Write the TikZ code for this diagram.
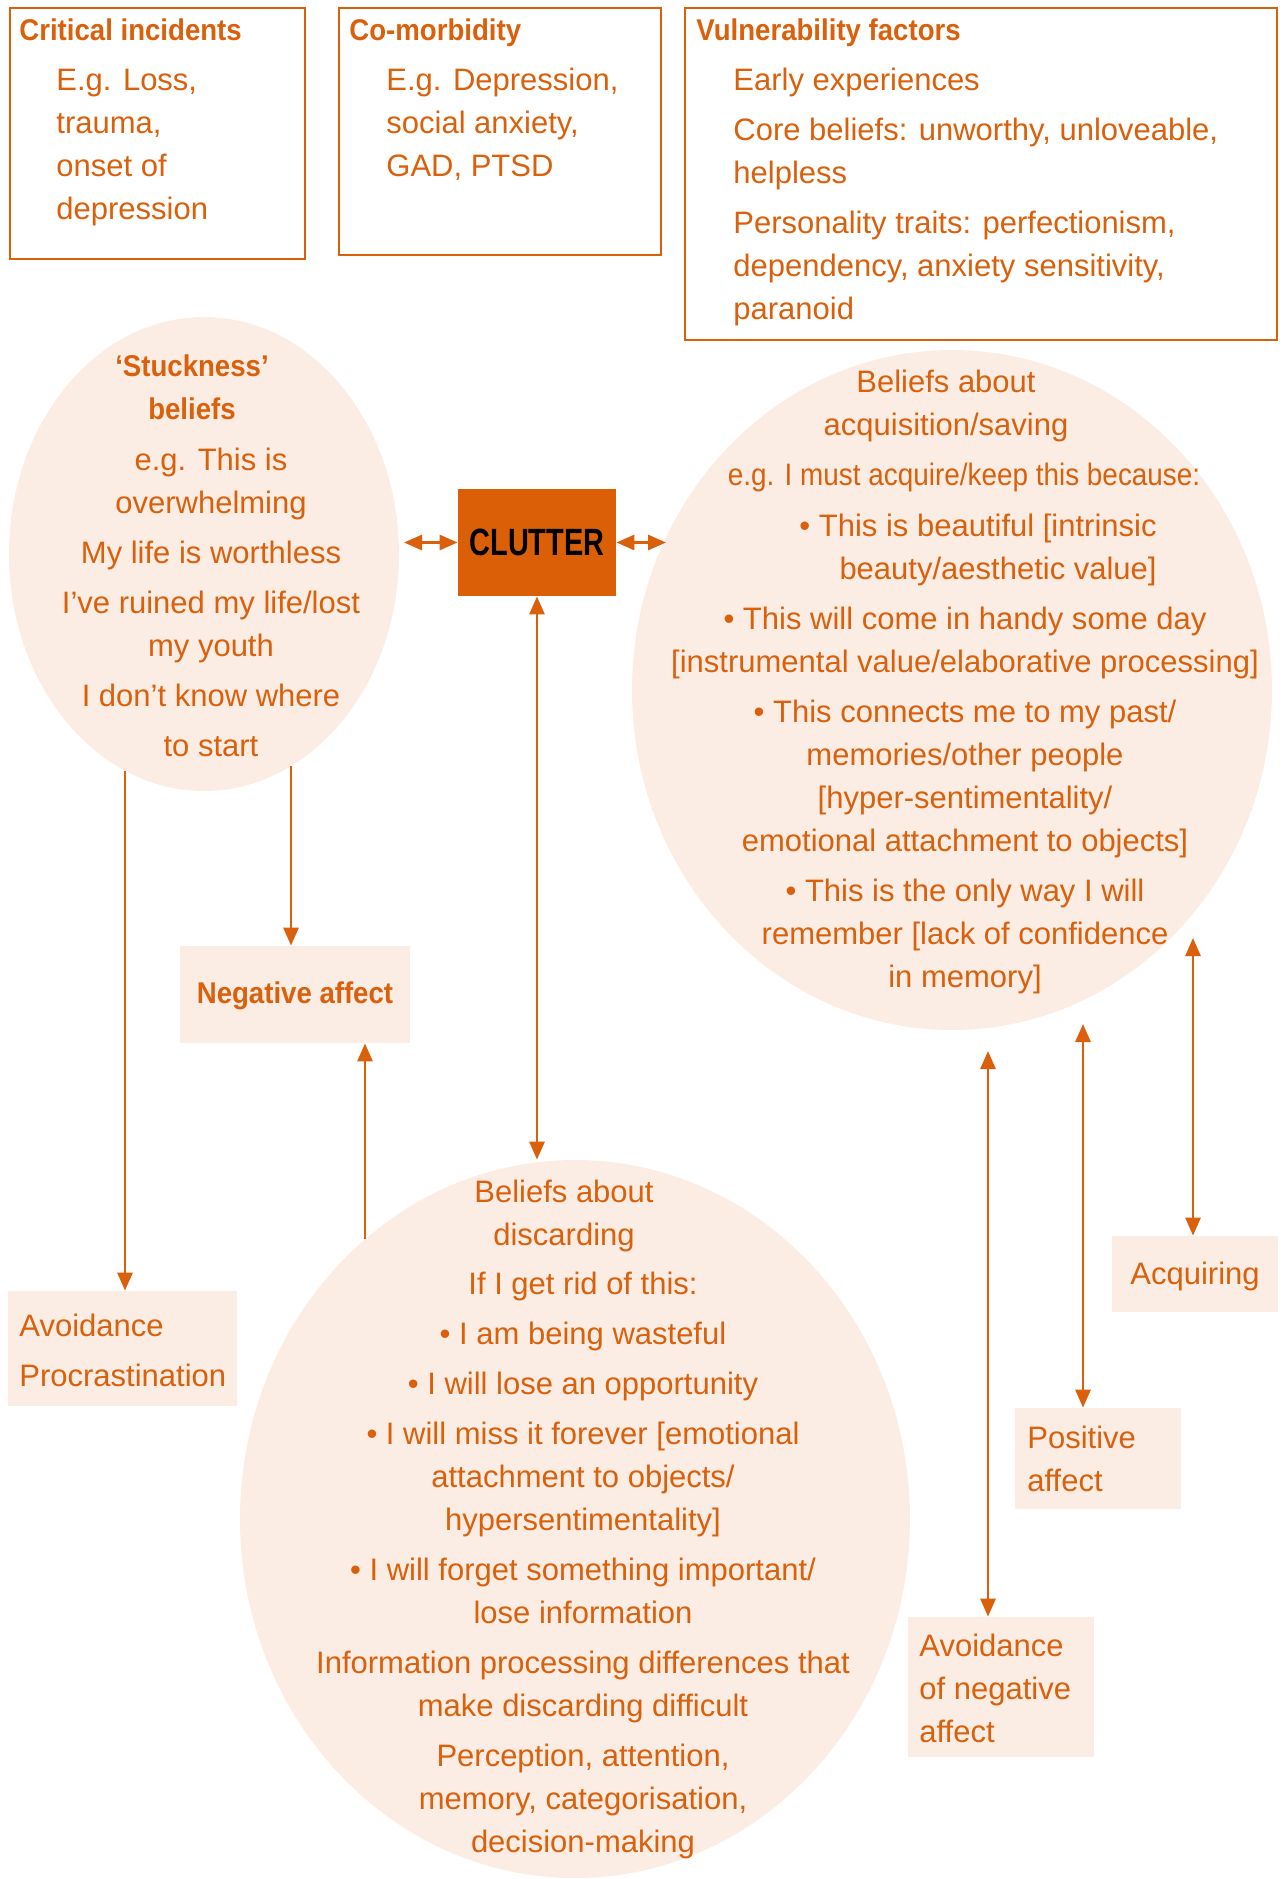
\documentclass[tikz,border=0pt]{standalone}
\usepackage{fontspec}
\usepackage{graphicx}
\usetikzlibrary{shapes.geometric,arrows.meta}
\setmainfont{Liberation Sans}
\newfontfamily\hdfont{Liberation Sans}[FakeStretch=0.92]
\newfontfamily\clfont{Liberation Sans}[FakeStretch=0.76]
\definecolor{org}{RGB}{218,96,12}
\definecolor{lt}{RGB}{251,237,228}
\definecolor{clbg}{RGB}{219,95,6}
\newcommand\firstl{\rule{0pt}{12pt}}
\tikzset{
 obox/.style={draw=org, line width=1.3pt, inner sep=0pt},
 fbox/.style={fill=lt, inner sep=0pt},
 bell/.style={ellipse, fill=lt, inner sep=0pt},
 tx/.style={inner sep=0pt, text=org, font=\fontsize{15.5}{21.5}\selectfont},
 hd/.style={inner sep=0pt, text=org, font=\hdfont\bfseries\fontsize{15}{21.5}\selectfont},
 arr/.style={draw=org, line width=1.45pt, -{Triangle[length=9pt,width=7.5pt]}},
 darr/.style={draw=org, line width=1.45pt, {Triangle[length=9pt,width=7.5pt]}-{Triangle[length=9pt,width=7.5pt]}},
}
\begin{document}
\begin{tikzpicture}[x=0.5pt,y=-0.5pt]
\useasboundingbox (0,0) rectangle (1283,1879);
% ellipses
\node[bell, minimum width=195pt, minimum height=237pt] (stuck) at (204,554) {};
\node[bell, minimum width=320pt, minimum height=340pt] (acqell) at (952,690) {};
\node[bell, minimum width=335pt, minimum height=359pt] (disc) at (575,1519) {};
% top boxes
\node[obox, minimum width=147.5pt, minimum height=125.5pt] (crit) at (157.5,133.5) {};
\node[obox, minimum width=161pt, minimum height=123.5pt] (comorb) at (500,131.5) {};
\node[obox, minimum width=296pt, minimum height=166pt] (vuln) at (981,174) {};
\node[hd, anchor=base west] (crittitle) at (19,40) {Critical incidents};
\node[hd, anchor=base west] (comorbtitle) at (349,40) {Co-morbidity};
\node[hd, anchor=base west] (vulntitle) at (696,40) {Vulnerability factors};
\node[tx, anchor=north west, align=left] (critbody) at (56,66) {\firstl E.g. Loss,\\trauma,\\onset of\\depression};
\node[tx, anchor=north west, align=left] (comorbbody) at (386,66) {\firstl E.g. Depression,\\social anxiety,\\GAD, PTSD};
\node[tx, anchor=north west, align=left] (vulnbody) at (733,66) {\firstl Early experiences\\[3.5pt]Core beliefs: unworthy, unloveable,\\helpless\\[3.5pt]Personality traits: perfectionism,\\dependency, anxiety sensitivity,\\paranoid};
% stuckness
\node[hd, anchor=north, align=center] (stucktitle) at (192,352) {\firstl ‘Stuckness’\\beliefs};
\node[tx, anchor=north, align=center] (stuckbody) at (211,446) {\firstl e.g. This is\\overwhelming\\[3.5pt]My life is worthless\\[3.5pt]I’ve ruined my life/lost\\my youth\\[3.5pt]I don’t know where\\[3.5pt]to start};
% clutter
\node[fill=clbg, inner sep=0pt, minimum width=79pt, minimum height=53.5pt, font=\clfont\bfseries\fontsize{19}{22}\selectfont] (clutter) at (537,542.5) {CLUTTER};
% acquisition ellipse text
\node[tx, anchor=north, align=center] (acqtitle) at (946,368) {\firstl Beliefs about\\acquisition/saving};
\node[tx, anchor=north] (acqeg) at (964,461) {\scalebox{0.9}[1]{\firstl e.g. I must acquire/keep this because:}};
\node[tx, anchor=north east, align=right] (acqb1) at (1157,512) {\firstl • This is beautiful {[}intrinsic\\beauty/aesthetic value]};
\node[tx, anchor=north, align=center] (acqrest) at (965,605) {\firstl • This will come in handy some day\\{[}instrumental value/elaborative processing]\\[3.5pt]• This connects me to my past/\\memories/other people\\{[}hyper-sentimentality/\\emotional attachment to objects]\\[3.5pt]• This is the only way I will\\remember {[}lack of confidence\\in memory]};
% discarding ellipse text
\node[tx, anchor=north, align=center] (disctitle) at (564,1178) {\firstl Beliefs about\\discarding};
\node[tx, anchor=north, align=center] (discbody) at (583,1270) {\firstl If I get rid of this:\\[3.5pt]• I am being wasteful\\[3.5pt]• I will lose an opportunity\\[3.5pt]• I will miss it forever {[}emotional\\attachment to objects/\\hypersentimentality]\\[3.5pt]• I will forget something important/\\lose information\\[3.5pt]Information processing differences that\\make discarding difficult\\[3.5pt]Perception, attention,\\memory, categorisation,\\decision-making};
% filled boxes
\node[fbox, minimum width=115pt, minimum height=48.5pt] (neg) at (295,994.5) {};
\node[hd] (negtxt) at (295,996) {Negative affect};
\node[fbox, minimum width=114.5pt, minimum height=57.5pt] (avoid) at (122.5,1348.5) {};
\node[tx, anchor=north west, align=left] (avoidtxt) at (19,1312) {\firstl Avoidance\\[3.5pt]Procrastination};
\node[fbox, minimum width=83pt, minimum height=38pt] (acq) at (1195,1274) {};
\node[tx, anchor=base west] (acqtxt) at (1130,1284) {Acquiring};
\node[fbox, minimum width=83pt, minimum height=50.5pt] (pos) at (1098,1458.5) {};
\node[tx, anchor=north west, align=left] (postxt) at (1027,1424) {\firstl Positive\\affect};
\node[fbox, minimum width=93pt, minimum height=70pt] (avneg) at (1001,1687) {};
\node[tx, anchor=north west, align=left] (avnegtxt) at (919,1632) {\firstl Avoidance\\of negative\\affect};
% connectors
\coordinate (a1) at (125,771);
\coordinate (a2) at (291,766);
\coordinate (a3) at (365,1239);
\coordinate (a5) at (404,542.5);
\coordinate (a6) at (666,542.5);
\coordinate (a7) at (988,1051);
\coordinate (a8) at (1083,1024);
\coordinate (a9) at (1193,938);
\draw[arr] (a1) -- (a1 |- avoid.north);
\draw[arr] (a2) -- (a2 |- neg.north);
\draw[arr] (a3) -- (a3 |- neg.south);
\draw[darr] (clutter.south) -- (clutter.south |- disc.north);
\draw[darr] (a5) -- (clutter.west);
\draw[darr] (clutter.east) -- (a6);
\draw[darr] (a7) -- (a7 |- avneg.north);
\draw[darr] (a8) -- (a8 |- pos.north);
\draw[darr] (a9) -- (a9 |- acq.north);
\end{tikzpicture}
\end{document}
